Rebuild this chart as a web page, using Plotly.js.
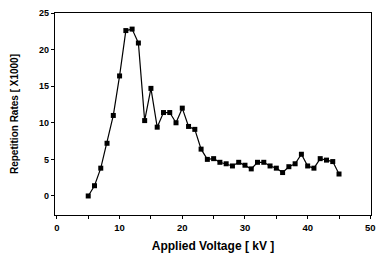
<!DOCTYPE html>
<html>
<head>
<meta charset="utf-8">
<script src="https://cdn.plot.ly/plotly-3.0.1.min.js"></script>
<style>html,body{margin:0;padding:0;background:#fff;}#chart{width:377px;height:255px;}</style>
</head>
<body>
<div id="chart"></div>
<script>
const voltage = [5,6,7,8,9,10,11,12,13,14,15,16,17,18,19,20,21,22,23,24,25,26,27,28,29,30,31,32,33,34,35,36,37,38,39,40,41,42,43,44,45];
const rate = [0,1.4,3.8,7.2,11,16.4,22.6,22.8,20.9,10.3,14.7,9.4,11.4,11.4,10,12,9.5,9.1,6.4,5.0,5.1,4.6,4.4,4.1,4.6,4.2,3.7,4.6,4.6,4.1,3.8,3.2,4.0,4.4,5.7,4.1,3.8,5.1,4.9,4.7,3.0];
const xTicks = [0,10,20,30,40,50];
const xMinorTicks = [5,15,25,35,45];
const yTicks = [0,5,10,15,20,25];
const xTitle = "Applied Voltage [ kV ]";
const yTitle = "Repetition Rates [ X1000]";

const trace = {
  x: voltage, y: rate, type: 'scatter', mode: 'lines+markers',
  line: {color: '#000', width: 1.2},
  marker: {color: '#000', size: 5, symbol: 'square'}
};
const fontFam = 'Liberation Sans, Arial, sans-serif';
const layout = {
  width: 377, height: 255,
  margin: {l: 55, r: 6, t: 13, b: 40},
  paper_bgcolor: '#fff', plot_bgcolor: '#fff',
  showlegend: false,
  font: {family: fontFam, color: '#000'},
  xaxis: {
    range: [-0.3, 50.1], tickvals: xTicks,
    ticks: 'outside', ticklen: 3, tickwidth: 1, tickcolor: '#000',
    minor: {tickvals: xMinorTicks, ticks: 'outside', ticklen: 3, tickcolor: '#000'},
    showline: true, linecolor: '#000', linewidth: 1.2, mirror: true,
    showgrid: false, zeroline: false,
    tickfont: {size: 9.5, family: fontFam, weight: 'bold'},
    title: {text: xTitle, font: {size: 12, family: fontFam, weight: 'bold'}, standoff: 10}
  },
  yaxis: {
    range: [-2.6, 25], tickvals: yTicks,
    ticks: 'outside', ticklen: 3, tickwidth: 1, tickcolor: '#000',
    showline: true, linecolor: '#000', linewidth: 1.2, mirror: true,
    showgrid: false, zeroline: false,
    tickfont: {size: 9, family: fontFam, weight: 'bold'},
    title: {text: yTitle, font: {size: 10, family: fontFam, weight: 'bold'}, standoff: 18}
  }
};
Plotly.newPlot('chart', [trace], layout, {staticPlot: true, displayModeBar: false});
</script>
</body>
</html>
